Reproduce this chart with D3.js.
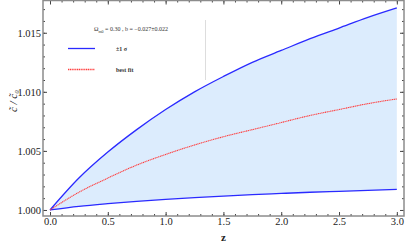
<!DOCTYPE html>
<html>
<head>
<meta charset="utf-8">
<script src="https://cdn.jsdelivr.net/npm/d3@7"></script>
<style>
  html, body { margin: 0; padding: 0; background: #fff; }
  svg { display: block; }
  svg text { font-family: "Liberation Serif", "Times New Roman", "DejaVu Serif", serif !important; }
</style>
</head>
<body>
<div id="chart"></div>
<script>
// values
const zValues = [0, 0.25, 0.5, 0.75, 1.0, 1.25, 1.5, 1.75, 2.0, 2.25, 2.5, 2.75, 3.0]
const upper = [1.0, 1.0027, 1.0049, 1.0068, 1.0085, 1.0100, 1.0113, 1.0125, 1.0135, 1.0145, 1.0154, 1.0163, 1.0171]
const bestFit = [1.0, 1.0015, 1.0027, 1.0038, 1.0047, 1.0055, 1.0062, 1.0068, 1.0074, 1.0080, 1.0085, 1.0090, 1.0094]
const lower = [1.0, 1.0003, 1.00053, 1.00073, 1.0009, 1.00105, 1.00118, 1.0013, 1.0014, 1.0015, 1.00158, 1.00166, 1.00174]
const xTicks = [0, 0.5, 1.0, 1.5, 2.0, 2.5, 3.0]
const yTicks = [1.000, 1.005, 1.010, 1.015]
const legendLabels = ["\u00b11 \u03c3", "best fit"]

const width = 407
const height = 246
const frame = { left: 43, right: 404, top: 0.5, bottom: 216 }
const serif = "'Liberation Serif', 'Times New Roman', serif"

const svg = d3.select("#chart")
  .append("svg")
  .attr("width", width)
  .attr("height", height)

const x = d3.scaleLinear()
  .domain([-0.0606, 3.062])
  .range([frame.left, frame.right])

const y = d3.scaleLinear()
  .domain([0.99949, 1.01773])
  .range([frame.bottom, frame.top])

const rows = zValues.map((z, i) => ({ z, up: upper[i], fit: bestFit[i], lo: lower[i] }))

// Band
const band = d3.area()
  .x(d => x(d.z))
  .y0(d => y(d.lo))
  .y1(d => y(d.up))
  .curve(d3.curveMonotoneX)

svg.append("path")
  .datum(rows)
  .attr("fill", "#dcecfd")
  .attr("d", band)

// gray divider from the legend box
svg.append("line")
  .attr("x1", 205.5).attr("x2", 205.5)
  .attr("y1", 20).attr("y2", 80)
  .attr("stroke", "#d4d4d4")
  .attr("stroke-width", 0.8)

const line = key => d3.line()
  .x(d => x(d.z))
  .y(d => y(d[key]))
  .curve(d3.curveMonotoneX)

svg.append("path")
  .datum(rows)
  .attr("fill", "none")
  .attr("stroke", "#2a2aff")
  .attr("stroke-width", 1.3)
  .attr("d", line("up"))

svg.append("path")
  .datum(rows)
  .attr("fill", "none")
  .attr("stroke", "#2a2aff")
  .attr("stroke-width", 1.3)
  .attr("d", line("lo"))

svg.append("path")
  .datum(rows)
  .attr("fill", "none")
  .attr("stroke", "#ff3c3c")
  .attr("stroke-width", 1.1)
  .attr("stroke-dasharray", "1.2,0.6")
  .attr("d", line("fit"))

// Frame with inward ticks on all sides
const frameColor = "#8c8c8c"
const xMinor = d3.range(0, 3.001, 0.1)
const yMinor = d3.range(1.0, 1.0176, 0.001)

const bare = g => g.select(".domain").remove()
const styleText = g => g.selectAll("text")
  .attr("font-size", 10.5)
  .attr("fill", "#222")
  .style("font-family", serif)

svg.append("g")
  .attr("transform", `translate(0,${frame.bottom})`)
  .call(d3.axisBottom(x).tickValues(xMinor).tickSize(-2).tickFormat(""))
  .call(bare)
  .attr("color", "#444")
svg.append("g")
  .attr("transform", `translate(0,${frame.bottom})`)
  .call(d3.axisBottom(x).tickValues(xTicks).tickSize(-4).tickPadding(2).tickFormat(d3.format(".1f")))
  .call(bare)
  .call(styleText)
  .attr("color", "#444")

svg.append("g")
  .attr("transform", `translate(0,${frame.top})`)
  .call(d3.axisTop(x).tickValues(xMinor).tickSize(-2).tickFormat(""))
  .call(bare)
  .attr("color", "#444")
svg.append("g")
  .attr("transform", `translate(0,${frame.top})`)
  .call(d3.axisTop(x).tickValues(xTicks).tickSize(-4).tickFormat(""))
  .call(bare)
  .attr("color", "#444")

svg.append("g")
  .attr("transform", `translate(${frame.left},0)`)
  .call(d3.axisLeft(y).tickValues(yMinor).tickSize(-2).tickFormat(""))
  .call(bare)
  .attr("color", "#444")
svg.append("g")
  .attr("transform", `translate(${frame.left},0)`)
  .call(d3.axisLeft(y).tickValues(yTicks).tickSize(-4).tickPadding(3).tickFormat(d3.format(".3f")))
  .call(bare)
  .call(styleText)
  .call(g => g.selectAll("text").attr("x", -2))
  .attr("color", "#444")

svg.append("g")
  .attr("transform", `translate(${frame.right},0)`)
  .call(d3.axisRight(y).tickValues(yMinor).tickSize(-2).tickFormat(""))
  .call(bare)
  .attr("color", "#444")
svg.append("g")
  .attr("transform", `translate(${frame.right},0)`)
  .call(d3.axisRight(y).tickValues(yTicks).tickSize(-4).tickFormat(""))
  .call(bare)
  .attr("color", "#444")

svg.append("rect")
  .attr("x", frame.left)
  .attr("y", frame.top)
  .attr("width", frame.right - frame.left)
  .attr("height", frame.bottom - frame.top)
  .attr("fill", "none")
  .attr("stroke", frameColor)
  .attr("stroke-width", 1.5)

// Axis labels
svg.append("text")
  .attr("x", x(1.5))
  .attr("y", 241)
  .attr("text-anchor", "middle")
  .attr("font-size", 11)
  .attr("font-weight", "bold")
  .attr("fill", "#222")
  .text("z")

svg.append("text")
  .attr("transform", "translate(17,101) rotate(-90)")
  .attr("text-anchor", "middle")
  .attr("font-size", 11)
  .attr("font-style", "italic")
  .attr("fill", "#222")
  .text("c\u0303 / c\u0303\u2080")

// Legend
const legend = svg.append("g").attr("font-size", 6).attr("fill", "#333")

const title = legend.append("text").attr("x", 94).attr("y", 31)
title.append("tspan").text("\u03a9")
title.append("tspan").attr("font-size", 4).attr("dy", 1.5).text("m0")
title.append("tspan").attr("dy", -1.5).text(" = 0.30 , b = \u22120.027\u00b10.022")

const legendColors = ["#2a2aff", "#ff3c3c"]
const legendDash = [null, "1.2,0.6"]
legendLabels.forEach((label, i) => {
  const ly = 48.5 + i * 21
  legend.append("line")
    .attr("x1", 68).attr("x2", 95)
    .attr("y1", ly).attr("y2", ly)
    .attr("stroke", legendColors[i])
    .attr("stroke-width", 1.3)
    .attr("stroke-dasharray", legendDash[i])
  legend.append("text")
    .attr("x", 116)
    .attr("y", ly + 2)
    .attr("font-weight", "bold")
    .text(label)
})
</script>
</body>
</html>
